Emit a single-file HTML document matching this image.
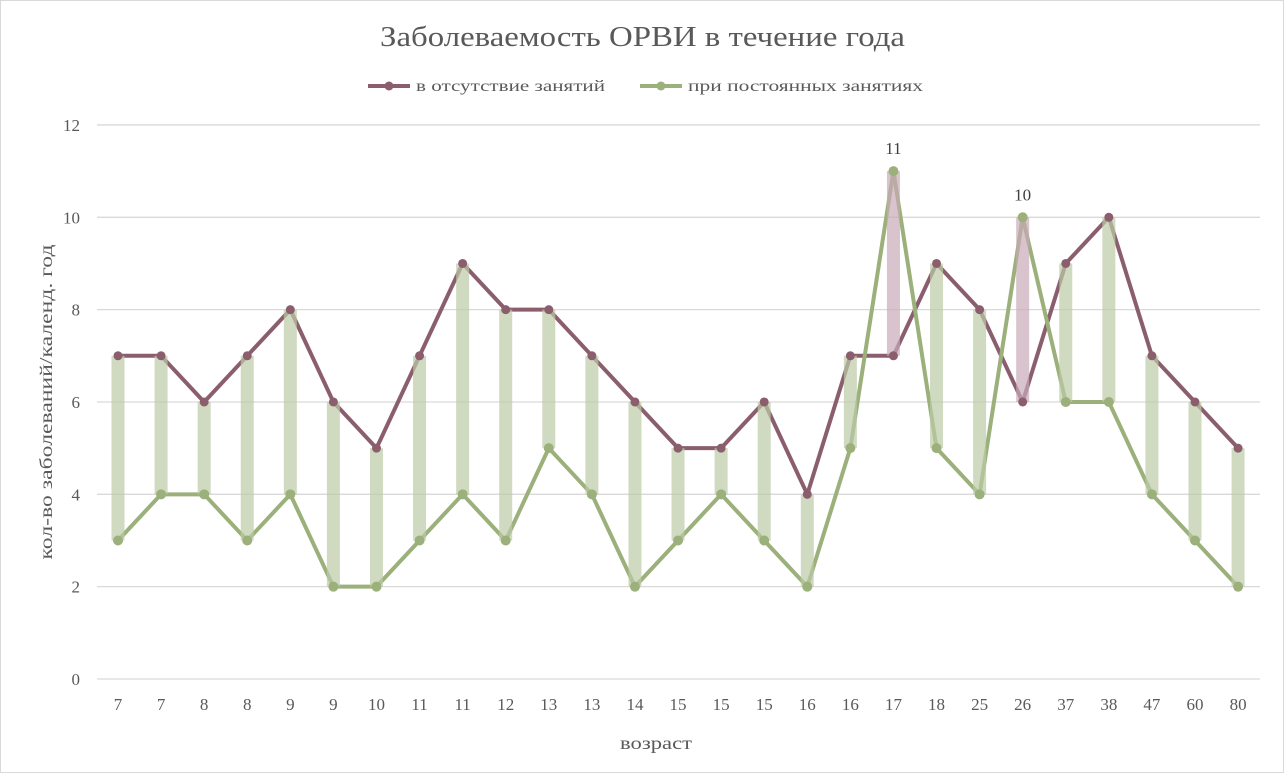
<!DOCTYPE html>
<html><head><meta charset="utf-8"><style>
body{margin:0;background:#fff;}
svg{display:block;font-family:"Liberation Serif",serif;}
</style></head><body>
<svg id="c" width="1284" height="773" viewBox="0 0 1284 773">
<rect x="0.5" y="0.5" width="1283" height="772" fill="#fff" stroke="#d9d9d9"/>
<text x="380" y="46" textLength="525" lengthAdjust="spacingAndGlyphs" font-size="28" fill="#595959">Заболеваемость ОРВИ в течение года</text>
<line x1="368" y1="86" x2="410" y2="86" stroke="#8b5e6e" stroke-width="4"/>
<circle cx="389" cy="86" r="4.5" fill="#8b5e6e"/>
<text x="416" y="91" textLength="189" lengthAdjust="spacingAndGlyphs" font-size="16" fill="#595959">в отсутствие занятий</text>
<line x1="640" y1="86" x2="682" y2="86" stroke="#9bb07a" stroke-width="4"/>
<circle cx="661" cy="86" r="4.5" fill="#9bb07a"/>
<text x="688" y="91" textLength="235" lengthAdjust="spacingAndGlyphs" font-size="16" fill="#595959">при постоянных занятиях</text>
<text transform="translate(52,402) rotate(-90)" text-anchor="middle" textLength="315" lengthAdjust="spacingAndGlyphs" font-size="18" fill="#595959">кол-во заболеваний/календ. год</text>
<text x="620" y="749" textLength="72" lengthAdjust="spacingAndGlyphs" font-size="18" fill="#595959">возраст</text>
<g id="g"></g>
</svg>
<script>
var ns="http://www.w3.org/2000/svg",g=document.getElementById('g');
function el(t,a,txt){var e=document.createElementNS(ns,t);for(var k in a)e.setAttribute(k,a[k]);if(txt!=null)e.textContent=txt;g.appendChild(e);return e;}
var lab=[7,7,8,8,9,9,10,11,11,12,13,13,14,15,15,15,16,16,17,18,25,26,37,38,47,60,80];
var p=[7,7,6,7,8,6,5,7,9,8,8,7,6,5,5,6,4,7,7,9,8,6,9,10,7,6,5];
var q=[3,4,4,3,4,2,2,3,4,3,5,4,2,3,4,3,2,5,11,5,4,10,6,6,4,3,2];
function X(i){return 118+i*43.08;} function Y(v){return 679-v*46.17;}
for(var v=0;v<=12;v+=2){el('line',{x1:97,x2:1260,y1:Y(v),y2:Y(v),stroke:'#d9d9d9','stroke-width':1.3});
el('text',{x:80,y:Y(v)+6,'text-anchor':'end','font-size':17,fill:'#595959'},v);}
lab.forEach(function(l,i){el('text',{x:X(i),y:710,'text-anchor':'middle','font-size':17,fill:'#595959'},l);});
function poly(d,c){el('polyline',{points:d.map(function(v,i){return X(i)+','+Y(v)}).join(' '),fill:'none',stroke:c,'stroke-width':4,'stroke-linejoin':'round'});}
poly(p,'#8b5e6e');poly(q,'#9bb07a');
p.forEach(function(v,i){var a=Math.max(v,q[i]),b=Math.min(v,q[i]);
el('rect',{x:X(i)-6.5,y:Y(a),width:13,height:Y(b)-Y(a),fill:q[i]>v?'#c9a9b8':'#bccaa6','fill-opacity':0.7});});
p.forEach(function(v,i){el('circle',{cx:X(i),cy:Y(v),r:4.5,fill:'#8b5e6e'});});
q.forEach(function(v,i){el('circle',{cx:X(i),cy:Y(v),r:5,fill:'#9bb07a'});});
el('text',{x:X(18),y:Y(11)-17,'text-anchor':'middle','font-size':17,fill:'#404040'},'11');
el('text',{x:X(21),y:Y(10)-17,'text-anchor':'middle','font-size':17,fill:'#404040'},'10');
</script>
</body></html>
